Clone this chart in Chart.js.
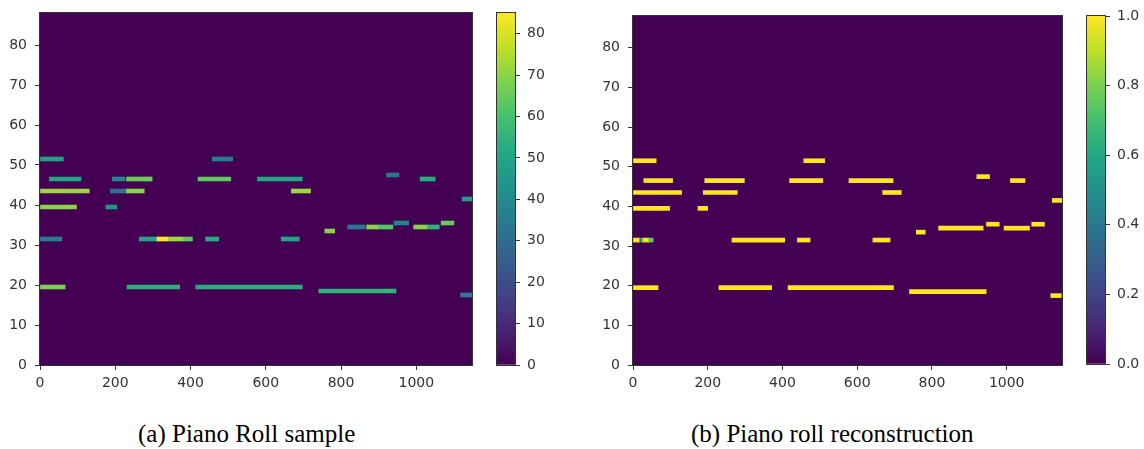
<!DOCTYPE html>
<html>
<head>
<meta charset="utf-8">
<script src="https://cdn.jsdelivr.net/npm/chart.js@4.4.0/dist/chart.umd.min.js"></script>
<style>
  html, body { margin: 0; padding: 0; background: #fff; }
  body { width: 1144px; height: 449px; position: relative; overflow: hidden; }
  .box { position: absolute; }
  .cap { position: absolute; font-family: 'Liberation Serif', 'Times New Roman', serif; font-size: 25px; line-height: 25px; color: #000; white-space: nowrap; }
</style>
</head>
<body>
<div class="box" style="left:0;top:0;width:480px;height:400px"><canvas id="roll-a"></canvas></div>
<div class="box" style="left:490px;top:0;width:60px;height:400px"><canvas id="cbar-a"></canvas></div>
<div class="box" style="left:593px;top:0;width:475px;height:400px"><canvas id="roll-b"></canvas></div>
<div class="box" style="left:1080px;top:0;width:64px;height:400px"><canvas id="cbar-b"></canvas></div>
<div class="cap" style="left:138px;top:421px">(a) Piano Roll sample</div>
<div class="cap" style="left:691px;top:421px">(b) Piano roll reconstruction</div>
<script>
// -- axes --
const xTicks = [0, 200, 400, 600, 800, 1000];
const pitchTicks = [0, 10, 20, 30, 40, 50, 60, 70, 80];
const velTicks = [0, 10, 20, 30, 40, 50, 60, 70, 80];
const probTicks = [0, 0.2, 0.4, 0.6, 0.8, 1.0];
const X_MAX = 1148;
const PITCH_MAX = 88;
const VEL_MAX = 85;
const PROB_MAX = 1;

// -- (a) sample: one entry per note segment --
const samplePitch = [51, 46, 43, 46, 46, 43, 43, 51, 46, 46, 43, 47, 46, 41,
                     39, 39, 31, 31, 31, 31, 31, 31, 31, 19, 19, 19,
                     18, 33, 34, 34, 34, 35, 34, 34, 35, 17];
const sampleStart = [0, 25, 0, 192, 230, 187, 230, 458, 420, 578, 668, 921, 1010, 1122,
                     0, 175, 0, 264, 311, 341, 380, 440, 641, 0, 231, 414,
                     741, 757, 818, 868, 899, 941, 993, 1030, 1066, 1118];
const sampleEnd   = [62, 109, 131, 226, 298, 230, 277, 512, 507, 697, 719, 954, 1050, 1148,
                     97, 204, 58, 311, 341, 380, 405, 475, 689, 67, 371, 697,
                     946, 783, 864, 899, 938, 980, 1030, 1061, 1100, 1147];
const sampleVel   = [49, 50, 72, 38, 66, 32, 70, 36, 64, 50, 72, 33, 52, 48,
                     70, 45, 36, 50, 85, 72, 64, 52, 50, 68, 53, 53,
                     55, 70, 34, 70, 62, 38, 70, 55, 65, 36];

// -- (b) reconstruction --
const recPitch = [51, 46, 43, 46, 43, 51, 46, 46, 43, 47, 46, 41,
                  39, 39, 31, 31, 31, 31, 31, 31, 31, 31, 19, 19, 19,
                  18, 33, 34, 35, 34, 35, 17];
const recStart = [0, 29, 0, 192, 188, 457, 419, 578, 668, 920, 1010, 1122,
                  0, 174, 0, 18, 24, 30, 42, 265, 440, 642, 0, 230, 415,
                  740, 758, 818, 946, 993, 1067, 1118];
const recEnd   = [62, 106, 130, 298, 279, 513, 508, 696, 718, 954, 1049, 1148,
                  98, 200, 18, 24, 30, 42, 54, 406, 474, 688, 67, 371, 697,
                  945, 782, 937, 980, 1061, 1101, 1146];
const recVal   = [1, 1, 1, 1, 1, 1, 1, 1, 1, 1, 1, 1,
                  1, 1, 1, 0.4, 0.85, 1, 0.75, 1, 1, 1, 1, 1, 1,
                  1, 1, 1, 1, 1, 1, 1];

// viridis colour map
const VIRIDIS = ['#440154', '#482475', '#414487', '#355f8d', '#2a788e', '#21918c',
                 '#22a884', '#44bf70', '#7ad151', '#bddf26', '#fde725'];
function viridis(t) {
  t = Math.max(0, Math.min(1, t));
  const f = t * (VIRIDIS.length - 1);
  const i = Math.min(Math.floor(f), VIRIDIS.length - 2);
  const k = f - i;
  const a = VIRIDIS[i], b = VIRIDIS[i + 1];
  const ch = (s, o) => parseInt(s.substr(o, 2), 16);
  const mix = o => Math.round(ch(a, o) + (ch(b, o) - ch(a, o)) * k);
  return `rgb(${mix(1)},${mix(3)},${mix(5)})`;
}

const INK = '#333333';
const tickFont = { family: 'DejaVu Sans', size: 14 };

// background + frame around the plot area
const panelFrame = {
  id: 'panelFrame',
  beforeDatasetsDraw(chart, args, opts) {
    if (!opts.fill) return;
    const a = chart.chartArea, ctx = chart.ctx;
    ctx.save();
    ctx.fillStyle = opts.fill;
    ctx.fillRect(a.left, a.top, a.right - a.left, a.bottom - a.top);
    ctx.restore();
  },
  afterDraw(chart) {
    const a = chart.chartArea, ctx = chart.ctx;
    ctx.save();
    ctx.strokeStyle = INK;
    ctx.lineWidth = 1;
    ctx.strokeRect(a.left - 0.5, a.top - 0.5, a.right - a.left + 1, a.bottom - a.top + 1);
    ctx.restore();
  }
};

// fixed axis box; no extra label padding so the plot area stays put
const fixSize = (w, h) => s => {
  if (w != null) s.width = w;
  if (h != null) s.height = h;
  s.paddingTop = 0; s.paddingBottom = 0; s.paddingLeft = 0; s.paddingRight = 0;
};

function axis(min, max, ticks, fmt, pad, extra) {
  return Object.assign({
    type: 'linear', min, max, offset: false,
    afterBuildTicks: s => { s.ticks = ticks.map(v => ({ value: v })); },
    grid: { offset: false, drawOnChartArea: false, drawTicks: true, tickLength: 5, color: INK, tickColor: INK },
    border: { display: true, color: INK },
    ticks: { color: INK, font: tickFont, padding: pad, autoSkip: false, maxRotation: 0, callback: fmt }
  }, extra);
}

function rollChart(id, pitch, start, end, val, vmax, top, right) {
  return new Chart(document.getElementById(id), {
    type: 'bar',
    data: {
      datasets: [{
        data: pitch.map((p, i) => ({ y: p + 0.5, x: [start[i], end[i]] })),
        backgroundColor: val.map(v => viridis(v / vmax)),
        borderWidth: 0,
        barThickness: 4,
        grouped: false
      }]
    },
    options: {
      indexAxis: 'y',
      responsive: true,
      maintainAspectRatio: false,
      devicePixelRatio: 1,
      animation: false,
      layout: { padding: { top: top, right: right, left: 0, bottom: 0 } },
      plugins: { legend: { display: false }, tooltip: { enabled: false }, panelFrame: { fill: VIRIDIS[0] } },
      scales: {
        x: axis(0, X_MAX, xTicks, v => String(v), 5, { afterFit: fixSize(null, 35) }),
        y: axis(0, PITCH_MAX, pitchTicks, v => String(v), 8, { afterFit: fixSize(40, null) })
      }
    },
    plugins: [panelFrame]
  });
}

function colorBar(id, vmax, ticks, fmt, top, bottom, width) {
  return new Chart(document.getElementById(id), {
    type: 'bar',
    data: {
      labels: [''],
      datasets: [{
        data: [[0, vmax]],
        backgroundColor: c => {
          const a = c.chart.chartArea;
          if (!a) return VIRIDIS[0];
          const g = c.chart.ctx.createLinearGradient(0, a.bottom, 0, a.top);
          VIRIDIS.forEach((col, i) => g.addColorStop(i / (VIRIDIS.length - 1), col));
          return g;
        },
        borderWidth: 0,
        barPercentage: 1,
        categoryPercentage: 1
      }]
    },
    options: {
      responsive: true,
      maintainAspectRatio: false,
      devicePixelRatio: 1,
      animation: false,
      layout: { padding: { left: 7, top: top, bottom: bottom, right: 0 } },
      plugins: { legend: { display: false }, tooltip: { enabled: false }, panelFrame: { fill: null } },
      scales: {
        x: { display: false },
        y: axis(0, vmax, ticks, fmt, 7, { position: 'right', afterFit: fixSize(width, null) })
      }
    },
    plugins: [panelFrame]
  });
}

rollChart('roll-a', samplePitch, sampleStart, sampleEnd, sampleVel, VEL_MAX, 13, 8);
colorBar('cbar-a', VEL_MAX, velTicks, v => String(v), 13, 35, 35);
rollChart('roll-b', recPitch, recStart, recEnd, recVal, PROB_MAX, 16, 6);
colorBar('cbar-b', PROB_MAX, probTicks, v => v.toFixed(1), 16, 36, 39);
</script>
</body>
</html>
